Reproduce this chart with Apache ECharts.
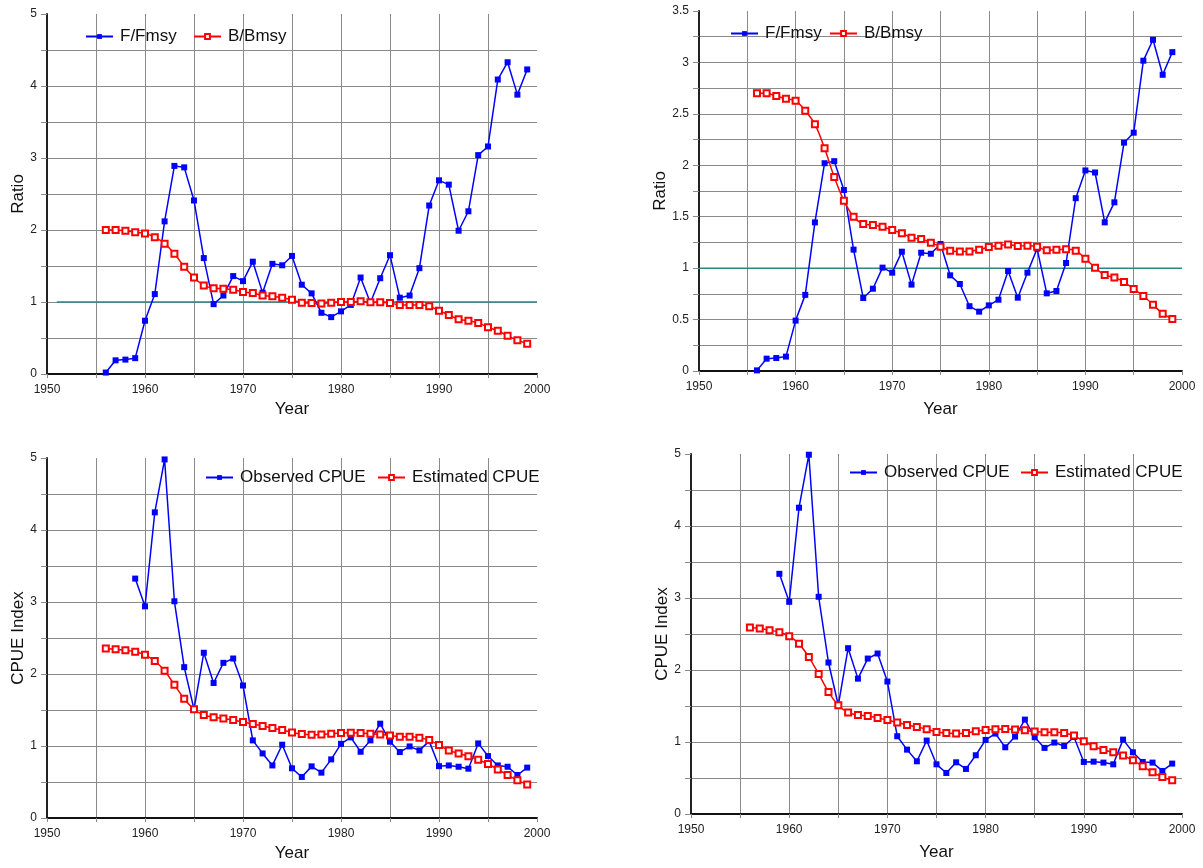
<!DOCTYPE html>
<html>
<head>
<meta charset="utf-8">
<script src="https://cdn.jsdelivr.net/npm/echarts@6/dist/echarts.min.js"></script>
<style>
html,body{margin:0;padding:0;background:#fff;}
#c{width:1203px;height:868px;}
</style>
</head>
<body>
<div id="c"></div>
<script>
const years = [1956,1957,1958,1959,1960,1961,1962,1963,1964,1965,1966,1967,1968,1969,1970,1971,1972,1973,1974,1975,1976,1977,1978,1979,1980,1981,1982,1983,1984,1985,1986,1987,1988,1989,1990,1991,1992,1993,1994,1995,1996,1997,1998,1999];
const obsYears = [1959,1960,1961,1962,1963,1964,1965,1966,1967,1968,1969,1970,1971,1972,1973,1974,1975,1976,1977,1978,1979,1980,1981,1982,1983,1984,1985,1986,1987,1988,1989,1990,1991,1992,1993,1994,1995,1996,1997,1998,1999];

// Panel 1 (top-left)
const fRatio1 = [0.02,0.19,0.20,0.22,0.74,1.11,2.12,2.89,2.87,2.41,1.61,0.97,1.09,1.36,1.29,1.56,1.13,1.53,1.51,1.64,1.24,1.12,0.85,0.79,0.87,0.96,1.34,0.99,1.33,1.65,1.06,1.09,1.47,2.34,2.69,2.63,1.99,2.26,3.04,3.16,4.09,4.33,3.88,4.23];
const bRatio1 = [2.00,2.00,1.99,1.97,1.95,1.90,1.81,1.67,1.49,1.34,1.23,1.19,1.185,1.17,1.14,1.125,1.09,1.08,1.06,1.03,0.99,0.985,0.98,0.99,1.00,1.00,1.01,0.995,0.995,0.985,0.96,0.96,0.96,0.94,0.88,0.82,0.76,0.74,0.71,0.65,0.60,0.53,0.47,0.42];
const refX1 = [1951,2000];
const refY1 = [1,1];

// Panel 2 (top-right)
const fRatio2 = [0.006,0.12,0.126,0.14,0.49,0.74,1.445,2.02,2.04,1.76,1.18,0.71,0.80,1.005,0.956,1.16,0.84,1.15,1.14,1.235,0.93,0.846,0.63,0.577,0.638,0.693,0.972,0.713,0.956,1.19,0.755,0.778,1.05,1.68,1.95,1.93,1.445,1.64,2.22,2.317,3.017,3.22,2.88,3.10];
const bRatio2 = [2.70,2.70,2.673,2.647,2.628,2.53,2.40,2.165,1.886,1.656,1.50,1.43,1.42,1.403,1.37,1.34,1.296,1.283,1.248,1.209,1.17,1.163,1.163,1.18,1.205,1.218,1.231,1.215,1.218,1.209,1.173,1.18,1.183,1.17,1.092,1.005,0.933,0.91,0.865,0.797,0.729,0.645,0.557,0.505];
const refX2 = [1950,2000];
const refY2 = [1,1];

// Panel 3 (bottom-left)
const obsCpue3 = [3.325,2.94,4.245,4.98,3.01,2.095,1.51,2.295,1.875,2.155,2.215,1.84,1.078,0.897,0.73,1.018,0.69,0.57,0.717,0.63,0.814,1.03,1.12,0.92,1.078,1.31,1.06,0.916,0.994,0.939,1.068,0.72,0.73,0.712,0.685,1.036,0.86,0.73,0.712,0.597,0.70];
const estCpue3 = [2.355,2.345,2.33,2.31,2.266,2.18,2.045,1.85,1.656,1.51,1.43,1.40,1.383,1.36,1.332,1.304,1.277,1.249,1.221,1.189,1.166,1.156,1.16,1.17,1.18,1.185,1.18,1.17,1.16,1.147,1.128,1.128,1.115,1.082,1.013,0.939,0.897,0.856,0.81,0.75,0.675,0.597,0.523,0.467];

// Panel 4 (bottom-right)
const obsCpue4 = [3.336,2.947,4.254,4.99,3.017,2.104,1.51,2.303,1.88,2.159,2.229,1.84,1.08,0.894,0.732,1.02,0.69,0.57,0.718,0.626,0.816,1.029,1.117,0.927,1.075,1.311,1.066,0.918,0.992,0.945,1.07,0.723,0.727,0.714,0.69,1.033,0.857,0.723,0.714,0.598,0.70];
const estCpue4 = [2.59,2.577,2.553,2.525,2.47,2.363,2.18,1.946,1.696,1.51,1.409,1.376,1.362,1.335,1.307,1.27,1.237,1.21,1.177,1.14,1.126,1.117,1.126,1.149,1.168,1.177,1.182,1.172,1.163,1.145,1.135,1.135,1.126,1.089,1.01,0.94,0.89,0.857,0.811,0.746,0.663,0.579,0.514,0.468];

const FONT = "'Liberation Sans', Arial, sans-serif";
const BLUE = '#0000ff', RED = '#ff0000', TEAL = '#2f8585', GRID = '#8a8a8a';

function pairs(xs, ys){ return xs.map((x,i)=>[x, ys[i]]); }

const grids = [
  {left:47, top:14, width:490, height:360},
  {left:699, top:11, width:483, height:360},
  {left:47, top:458, width:490, height:360},
  {left:691, top:454, width:491, height:360}
];

function xAxis(i, gap){
  return {
    type:'value', gridIndex:i, min:1950, max:2000, interval:5,
    name:'Year', nameLocation:'middle', nameGap:gap,
    nameTextStyle:{fontFamily:FONT, fontSize:17, color:'#111'},
    axisLine:{show:true, onZero:false, lineStyle:{color:'#111', width:2}},
    axisTick:{show:true, length:4, lineStyle:{color:GRID}},
    axisLabel:{fontFamily:FONT, fontSize:12, color:'#222', margin:10,
      formatter:v => (v % 10 === 0 ? String(v) : '')},
    splitLine:{show:true, showMinLine:false, showMaxLine:false, lineStyle:{color:GRID, width:1}}
  };
}
function yAxis(i, name, max, interval, labelStep, gap){
  return {
    type:'value', gridIndex:i, min:0, max:max, interval:interval,
    name:name, nameLocation:'middle', nameGap:gap, nameRotate:90,
    nameTextStyle:{fontFamily:FONT, fontSize:17, color:'#111'},
    axisLine:{show:true, onZero:false, lineStyle:{color:'#222', width:2}},
    axisTick:{show:true, length:6, lineStyle:{color:GRID}},
    axisLabel:{fontFamily:FONT, fontSize:12, color:'#222', margin:10,
      formatter:v => (Math.abs(v/labelStep - Math.round(v/labelStep)) < 1e-6 ? String(v) : '')},
    splitLine:{show:true, showMinLine:false, showMaxLine:false, lineStyle:{color:GRID, width:1}}
  };
}

function blueSeries(name, i, data){
  return {name:name, type:'line', xAxisIndex:i, yAxisIndex:i, data:data,
    symbol:'rect', symbolSize:6, showSymbol:true,
    lineStyle:{color:BLUE, width:1.5}, itemStyle:{color:BLUE}, z:3, animation:false};
}
function redSeries(name, i, data){
  return {name:name, type:'line', xAxisIndex:i, yAxisIndex:i, data:data,
    symbol:'emptyRect', symbolSize:6, smooth:0.3,
    lineStyle:{color:RED, width:1.5}, itemStyle:{color:RED, borderColor:RED, borderWidth:1}, z:4, animation:false};
}
function refSeries(i, xs, ys){
  return {type:'line', xAxisIndex:i, yAxisIndex:i, data:pairs(xs, ys),
    symbol:'none', lineStyle:{color:TEAL, width:1.5}, z:2, silent:true, animation:false};
}
function legendItem(name, left, top){
  return {show:true, left:left, top:top, padding:0, orient:'horizontal',
    itemWidth:27, itemHeight:6, data:[name],
    textStyle:{fontFamily:FONT, fontSize:17, color:'#111', padding:[0,0,0,2]}};
}

const option = {
  backgroundColor:'#fff',
  animation:false,
  grid: grids,
  xAxis:[xAxis(0,27), xAxis(1,30), xAxis(2,27), xAxis(3,30)],
  yAxis:[
    yAxis(0,'Ratio',5,0.5,1,20),
    yAxis(1,'Ratio',3.5,0.25,0.5,30),
    yAxis(2,'CPUE Index',5,0.5,1,20),
    yAxis(3,'CPUE Index',5,0.5,1,20)
  ],
  legend:[
    legendItem('F/Fmsy', 85, 28),
    legendItem('B/Bmsy', 193, 28),
    legendItem('F/Fmsy ', 730, 25),
    legendItem('B/Bmsy ', 829, 25),
    legendItem('Observed CPUE', 205, 469),
    legendItem('Estimated CPUE', 377, 469),
    legendItem('Observed CPUE ', 849, 464),
    legendItem('Estimated CPUE ', 1020, 464)
  ],
  series:[
    refSeries(0, refX1, refY1),
    blueSeries('F/Fmsy', 0, pairs(years, fRatio1)),
    redSeries('B/Bmsy', 0, pairs(years, bRatio1)),
    refSeries(1, refX2, refY2),
    blueSeries('F/Fmsy ', 1, pairs(years, fRatio2)),
    redSeries('B/Bmsy ', 1, pairs(years, bRatio2)),
    blueSeries('Observed CPUE', 2, pairs(obsYears, obsCpue3)),
    redSeries('Estimated CPUE', 2, pairs(years, estCpue3)),
    blueSeries('Observed CPUE ', 3, pairs(obsYears, obsCpue4)),
    redSeries('Estimated CPUE ', 3, pairs(years, estCpue4))
  ]
};

const chart = echarts.init(document.getElementById('c'), null, {renderer:'canvas'});
chart.setOption(option);
</script>
</body>
</html>
